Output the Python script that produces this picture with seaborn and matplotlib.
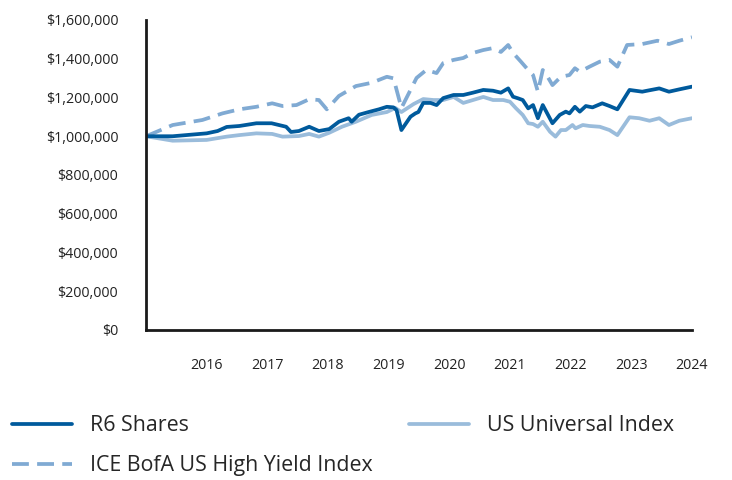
import matplotlib
matplotlib.use("Agg")
import matplotlib.pyplot as plt
import seaborn as sns
import pandas as pd
from matplotlib.ticker import FuncFormatter

sns.set_style("white")
plt.rcParams['font.family'] = ['Open Sans', 'DejaVu Sans']

# ---- data ----
r6_x = [2015.00, 2015.44, 2016.00, 2016.18, 2016.33, 2016.54, 2016.82, 2017.07, 2017.31, 2017.39,
        2017.52, 2017.69, 2017.85, 2018.02, 2018.18, 2018.34, 2018.39, 2018.51, 2018.67, 2018.84,
        2018.97, 2019.08, 2019.13, 2019.21, 2019.36, 2019.44, 2019.49, 2019.57, 2019.69, 2019.79,
        2019.90, 2020.07, 2020.23, 2020.39, 2020.56, 2020.72, 2020.85, 2020.97, 2021.05, 2021.13,
        2021.21, 2021.30, 2021.38, 2021.46, 2021.54, 2021.70, 2021.82, 2021.92, 2021.98, 2022.07,
        2022.15, 2022.25, 2022.36, 2022.52, 2022.64, 2022.77, 2022.97, 2023.18, 2023.26, 2023.46,
        2023.62, 2023.79, 2024.00]
r6_y = [1000000, 1000000, 1015000, 1027000, 1048000, 1053000, 1067000, 1067000, 1049000, 1022000,
        1027000, 1049000, 1027000, 1037000, 1075000, 1093000, 1075000, 1111000, 1125000, 1139000,
        1152000, 1149000, 1135000, 1032000, 1101000, 1118000, 1125000, 1172000, 1172000, 1161000,
        1197000, 1213000, 1213000, 1225000, 1239000, 1235000, 1225000, 1247000, 1204000, 1196000,
        1187000, 1144000, 1161000, 1093000, 1161000, 1067000, 1110000, 1127000, 1118000, 1152000,
        1127000, 1156000, 1149000, 1170000, 1156000, 1139000, 1239000, 1230000, 1235000, 1247000,
        1230000, 1242000, 1256000]

uni_x = [2015.00, 2015.44, 2016.00, 2016.33, 2016.54, 2016.82, 2017.08, 2017.25, 2017.52, 2017.69,
         2017.85, 2018.02, 2018.23, 2018.46, 2018.72, 2018.97, 2019.11, 2019.21, 2019.41, 2019.57,
         2019.74, 2019.90, 2020.07, 2020.23, 2020.39, 2020.56, 2020.72, 2020.89, 2021.00, 2021.10,
         2021.21, 2021.30, 2021.38, 2021.46, 2021.54, 2021.66, 2021.75, 2021.84, 2021.92, 2022.03,
         2022.08, 2022.20, 2022.31, 2022.48, 2022.64, 2022.77, 2022.97, 2023.13, 2023.30, 2023.46,
         2023.62, 2023.79, 2024.00]
uni_y = [1000000, 977000, 981000, 998000, 1006000, 1015000, 1012000, 998000, 1001000, 1012000,
         998000, 1018000, 1049000, 1075000, 1110000, 1125000, 1146000, 1125000, 1166000, 1192000,
         1187000, 1187000, 1203000, 1172000, 1187000, 1203000, 1187000, 1187000, 1178000, 1144000,
         1110000, 1067000, 1063000, 1049000, 1075000, 1023000, 998000, 1032000, 1032000, 1058000,
         1041000, 1058000, 1053000, 1049000, 1032000, 1006000, 1098000, 1093000, 1080000, 1093000,
         1058000, 1080000, 1093000]

hy_x = [2015.00, 2015.44, 2015.93, 2016.26, 2016.54, 2016.82, 2017.08, 2017.25, 2017.48, 2017.69,
        2017.85, 2017.98, 2018.18, 2018.46, 2018.72, 2018.97, 2019.08, 2019.21, 2019.46, 2019.62,
        2019.79, 2019.90, 2020.07, 2020.23, 2020.39, 2020.56, 2020.72, 2020.85, 2020.97, 2021.05,
        2021.18, 2021.30, 2021.38, 2021.46, 2021.54, 2021.62, 2021.70, 2021.84, 2021.98, 2022.07,
        2022.15, 2022.31, 2022.48, 2022.64, 2022.77, 2022.93, 2023.18, 2023.43, 2023.62, 2023.79,
        2024.00]
hy_y = [1000000, 1058000, 1084000, 1118000, 1139000, 1152000, 1170000, 1156000, 1161000, 1191000,
        1187000, 1139000, 1208000, 1259000, 1276000, 1307000, 1299000, 1146000, 1301000, 1342000,
        1326000, 1378000, 1394000, 1404000, 1430000, 1445000, 1455000, 1435000, 1471000, 1430000,
        1385000, 1342000, 1316000, 1230000, 1342000, 1307000, 1264000, 1307000, 1316000, 1351000,
        1333000, 1359000, 1385000, 1394000, 1359000, 1471000, 1476000, 1493000, 1476000, 1493000,
        1511000]

x_ticks = [2016, 2017, 2018, 2019, 2020, 2021, 2022, 2023, 2024]
y_ticks = [0, 200000, 400000, 600000, 800000, 1000000, 1200000, 1400000, 1600000]

names = ["R6 Shares", "US Universal Index", "ICE BofA US High Yield Index"]
colors = ["#005A9C", "#9ABCDB", "#80AAD3"]

fig = plt.figure(figsize=(7.32, 4.8), dpi=100)
ax = fig.add_axes([146/732, 1-330/480, (692-146)/732, (330-20)/480])

lw = 2.7
sns.lineplot(x=uni_x, y=uni_y, ax=ax, color=colors[1], linewidth=lw, label=names[1])
sns.lineplot(x=hy_x, y=hy_y, ax=ax, color=colors[2], linewidth=lw, label=names[2])
ax.lines[-1].set_dashes([4.5, 2.2])
sns.lineplot(x=r6_x, y=r6_y, ax=ax, color=colors[0], linewidth=lw, label=names[0])

ax.set_xlim(2015, 2024)
ax.set_ylim(0, 1600000)
ax.set_xticks(x_ticks)
ax.set_xticklabels([str(t) for t in x_ticks])
ax.set_yticks(y_ticks)
ax.yaxis.set_major_formatter(FuncFormatter(lambda v, p: f"${v:,.0f}"))
ax.tick_params(axis='both', length=0, labelsize=10.3, colors="#222222")
ax.tick_params(axis='y', pad=20)
ax.tick_params(axis='x', pad=20)
for s in ["top", "right"]:
    ax.spines[s].set_visible(False)
for s in ["left", "bottom"]:
    ax.spines[s].set_color("#1a1a1a")
    ax.spines[s].set_linewidth(2)
ax.set_xlabel("")
ax.set_ylabel("")
ax.grid(False)

handles, labels = ax.get_legend_handles_labels()
ax.get_legend().remove()
hmap = dict(zip(labels, handles))
order = [names[0], names[2], names[1]]
fig.legend([hmap[n] for n in order], order, ncol=2, loc="upper left",
           bbox_to_anchor=(12/732, 1-415/480), frameon=False, fontsize=15.4,
           handlelength=2.8, handletextpad=0.84, columnspacing=1.7, labelspacing=0.9,
           borderpad=0, borderaxespad=0)

fig.savefig("out.png", dpi=100)
